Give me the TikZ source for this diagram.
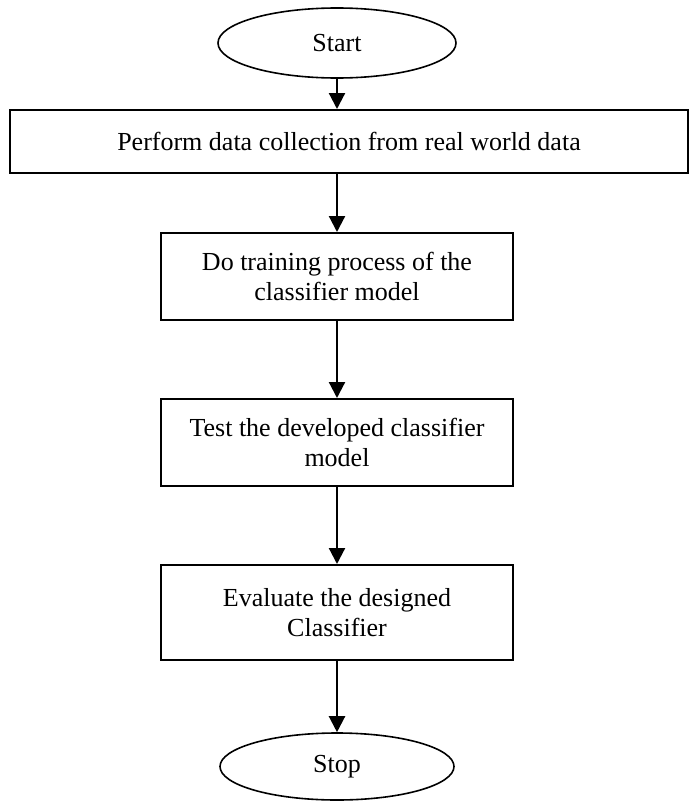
\documentclass[tikz,border=0pt]{standalone}
\usepackage{fontspec}
\setmainfont{Liberation Serif}
\usetikzlibrary{shapes.geometric,arrows.meta}
\begin{document}
\begin{tikzpicture}[x=1pt,y=-1pt,
  every node/.style={font=\fontsize{26}{30}\selectfont},
  term/.style={ellipse,draw,line width=1.6pt,inner sep=0pt},
  proc/.style={rectangle,draw,line width=2pt,inner sep=0pt,align=center},
  flow/.style={line width=2.2pt,-{Triangle[width=16pt,length=16pt]}}]
\useasboundingbox (0,0) rectangle (699,803);
\node[term,minimum width=238pt,minimum height=70pt] (start) at (337,43) {Start};
\node[proc,minimum width=678pt,minimum height=63pt] (b1) at (349,141.5) {Perform data collection from real world data};
\node[proc,minimum width=352pt,minimum height=87pt] (b2) at (337,276.5) {Do training process of the\\classifier model};
\node[proc,minimum width=352pt,minimum height=87pt] (b3) at (337,442.5) {Test the developed classifier\\model};
\node[proc,minimum width=352pt,minimum height=95pt] (b4) at (337,612.5) {Evaluate the designed\\Classifier};
\node[term,minimum width=234pt,minimum height=67pt] (stop) at (337,766.5) {Stop};
\draw[flow] (start.south) -- (start.south |- b1.north);
\draw[flow] (b1.south -| b2.north) -- (b2.north);
\draw[flow] (b2.south) -- (b3.north);
\draw[flow] (b3.south) -- (b4.north);
\draw[flow] (b4.south) -- (stop.north);
\end{tikzpicture}
\end{document}
